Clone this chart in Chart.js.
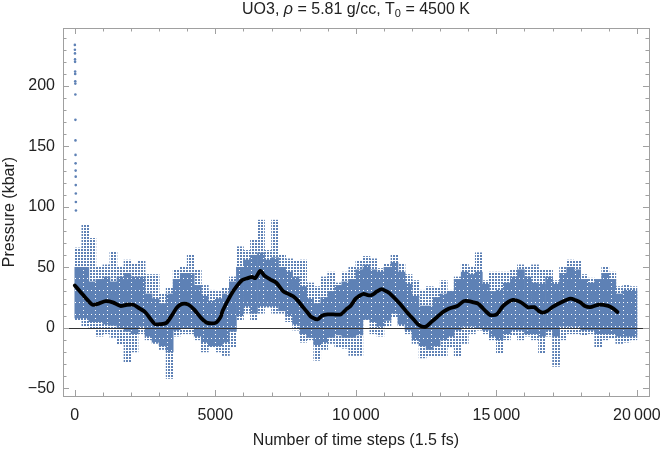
<!DOCTYPE html>
<html>
<head>
<meta charset="utf-8">
<script src="https://cdn.jsdelivr.net/npm/chart.js@4.4.1/dist/chart.umd.min.js"></script>
<style>
  html, body { margin: 0; padding: 0; background: #fff; }
  #wrap { width: 671px; height: 452px; }
</style>
</head>
<body>
<div id="wrap"><canvas id="grafico"></canvas></div>
<script>
// blue cloud, read per 250-step bin (bin centres)
const binCenters = [
  125, 375, 625, 875, 1125, 1375, 1625, 1875, 2125, 2375,
  2625, 2875, 3125, 3375, 3625, 3875, 4125, 4375, 4625, 4875,
  5125, 5375, 5625, 5875, 6125, 6375, 6625, 6875, 7125, 7375,
  7625, 7875, 8125, 8375, 8625, 8875, 9125, 9375, 9625, 9875,
  10125, 10375, 10625, 10875, 11125, 11375, 11625, 11875, 12125, 12375,
  12625, 12875, 13125, 13375, 13625, 13875, 14125, 14375, 14625, 14875,
  15125, 15375, 15625, 15875, 16125, 16375, 16625, 16875, 17125, 17375,
  17625, 17875, 18125, 18375, 18625, 18875, 19125, 19375, 19625, 19875
];
// outermost points in each bin
const binHigh = [
  66, 85, 74, 50, 52, 63, 50, 56, 53, 55,
  44, 44, 28, 33, 48, 50, 60, 48, 35, 31,
  30, 33, 42, 67, 64, 73, 89, 64, 89, 60,
  57, 55, 56, 37, 34, 42, 46, 37, 46, 50,
  55, 59, 57, 49, 53, 60, 53, 44, 39, 31,
  34, 33, 39, 31, 42, 53, 50, 62, 39, 46,
  46, 46, 48, 52, 50, 52, 48, 48, 39, 50,
  56, 55, 44, 41, 39, 50, 46, 34, 35, 34
];
const binLow = [
  6, 1, 0, -7, -5, -8, -14, -29, -20, -5,
  -10, -13, -18, -42, -7, -5, -5, -10, -20, -16,
  -20, -23, -16, 6, 12, 6, 12, 17, 12, 12,
  5, -2, -12, -10, -27, -18, -13, -16, -17, -23,
  -23, 6, -5, -7, 1, 9, 1, -5, -13, -25,
  -24, -24, -24, -16, -24, -13, -5, -2, -5, -10,
  -21, -10, -6, -10, -7, -10, -21, -7, -32, -10,
  -5, -5, -6, -5, -16, -10, -9, -13, -12, -10
];
// where the points are dense
const coreHigh = [
  50, 50, 38, 40, 42, 38, 42, 45, 42, 42,
  28, 24, 20, 28, 40, 45, 45, 35, 26, 22,
  24, 28, 38, 50, 56, 60, 62, 56, 58, 50,
  46, 42, 34, 24, 20, 25, 30, 35, 38, 40,
  48, 52, 48, 46, 50, 54, 46, 36, 26, 18,
  18, 25, 28, 30, 40, 46, 44, 46, 36, 30,
  31, 37, 42, 48, 42, 37, 36, 42, 36, 45,
  50, 48, 40, 37, 40, 45, 40, 28, 31, 31
];
const coreLow = [
  8, 8, 5, 5, 3, 2, 0, -3, -5, 1,
  -7, -12, -15, -20, -2, 0, 0, -7, -12, -15,
  -15, -12, -3, 10, 18, 12, 18, 18, 18, 14,
  10, 3, -5, -8, -14, -12, -8, -6, -8, -8,
  -6, 7, 5, 1, 6, 12, 3, -2, -10, -15,
  -18, -15, -10, -7, -2, 1, 1, 0, -2, -7,
  -10, -5, -2, -2, -5, -5, -7, -2, -7, 1,
  1, 1, -2, -2, -5, -5, -5, -7, -7, -7
];

// the first few steps shoot up
const spikeSteps = [2, 4, 6, 8, 10, 12, 14, 16, 18, 20, 22, 24, 26, 28, 30, 32, 34, 36, 38, 40];
const spikeValues = [234, 230, 227, 222, 220, 212, 210, 204, 202, 193, 172, 155, 143, 136, 130, 125, 118, 111, 104, 97];

// black running mean
const meanSteps = [
  0, 150, 300, 450, 630, 850, 1100, 1350, 1620, 1850,
  2090, 2300, 2500, 2700, 2850, 3050, 3260, 3450, 3610, 3750,
  3900, 4050, 4250, 4500, 4720, 5010, 5190, 5260, 5550, 5750,
  5960, 6150, 6310, 6420, 6600, 6750, 6950, 7180, 7420, 7600,
  7770, 7950, 8120, 8300, 8410, 8640, 8800, 9000, 9200, 9460,
  9650, 9810, 9990, 10100, 10280, 10420, 10570, 10750, 10920, 11100,
  11270, 11560, 11850, 12050, 12200, 12350, 12500, 12700, 12900, 13100,
  13320, 13610, 13840, 14000, 14190, 14350, 14480, 14650, 14780, 15010,
  15240, 15590, 15880, 16120, 16350, 16500, 16640, 16820, 16990, 17350,
  17640, 17800, 17990, 18150, 18340, 18630, 18980, 19150, 19310
];
const meanValues = [
  35, 31, 27, 23, 19, 20, 22, 21, 18, 19,
  19, 16, 13, 7, 3, 3, 4, 10, 16, 19,
  20, 19, 15, 8, 4, 4, 9, 14, 27, 34,
  39.5, 41, 42, 41, 47, 43, 40, 37, 30, 28,
  26, 22, 17, 12, 9, 7, 10, 11, 11, 11,
  15, 18, 24, 26, 28, 27, 27, 30, 32, 30,
  27, 20, 12, 7, 3, 1, 1, 5, 9, 13,
  16, 18, 22, 22, 21, 20, 17, 13, 10.5, 11,
  18, 23, 21, 17, 17, 14, 12.5, 14, 17, 21.5,
  24, 23, 21, 18, 17, 19, 18, 16, 13
];

const xTicks = [0, 5000, 10000, 15000, 20000];
const yTicks = [-50, 0, 50, 100, 150, 200];

const blue = "rgb(94,129,181)";
const fonte = "'Liberation Sans', Arial, sans-serif";

function agrupar(v) {
  const s = String(Math.abs(v));
  const txt = s.length > 4 ? s.slice(0, s.length - 3) + "\u2009" + s.slice(-3) : s;
  return v < 0 ? "\u2212" + txt : txt;
}

// small tiled dots so the bands look like a point cloud
function pontilhado(w, h, rects) {
  const cv = document.createElement("canvas");
  cv.width = w;
  cv.height = h;
  const g = cv.getContext("2d");
  g.fillStyle = blue;
  rects.forEach(r => g.fillRect(r[0], r[1], r[2], r[3]));
  return g.createPattern(cv, "repeat");
}

// frame with inward ticks on all four sides, like Mathematica
const moldura = {
  id: "moldura",
  afterDraw(chart) {
    const c = chart.ctx;
    const a = chart.chartArea;
    const sx = chart.scales.x, sy = chart.scales.y;
    c.save();
    c.strokeStyle = "#a0a0a0";
    c.lineWidth = 1;
    c.beginPath();
    for (let v = 0; v <= 20000; v += 1000) {
      const px = Math.round(sx.getPixelForValue(v)) + 0.5;
      const len = v % 5000 === 0 ? 6 : 3.5;
      c.moveTo(px, a.bottom); c.lineTo(px, a.bottom - len);
      c.moveTo(px, a.top); c.lineTo(px, a.top + len);
    }
    for (let v = -50; v <= 240; v += 10) {
      const py = Math.round(sy.getPixelForValue(v)) + 0.5;
      const len = v % 50 === 0 ? 6 : 3.5;
      c.moveTo(a.left, py); c.lineTo(a.left + len, py);
      c.moveTo(a.right, py); c.lineTo(a.right - len, py);
    }
    c.stroke();
    c.strokeRect(Math.round(a.left) + 0.5, Math.round(a.top) + 0.5,
      Math.round(a.right - a.left), Math.round(a.bottom - a.top));

    // title with italic rho and subscript zero
    const partes = [
      { t: "UO3, ", f: "16px " + fonte, dy: 0 },
      { t: "\u03c1", f: "italic 16px " + fonte, dy: 0 },
      { t: " = 5.81 g/cc, T", f: "16px " + fonte, dy: 0 },
      { t: "0", f: "11px " + fonte, dy: 3 },
      { t: " = 4500 K", f: "16px " + fonte, dy: 0 }
    ];
    let total = 0;
    for (const p of partes) { c.font = p.f; p.w = c.measureText(p.t).width; total += p.w; }
    let x = (a.left + a.right) / 2 - total / 2;
    c.fillStyle = "#222";
    c.textBaseline = "alphabetic";
    c.textAlign = "left";
    for (const p of partes) {
      c.font = p.f;
      c.fillText(p.t, x, 14 + p.dy);
      x += p.w;
    }
    c.restore();
  },
  beforeDatasetDraw(chart, args) {
    // horizontal axis at zero, under the black mean line
    if (args.index !== 0) return;
    const c = chart.ctx;
    const a = chart.chartArea;
    const py = Math.round(chart.scales.y.getPixelForValue(0)) + 0.5;
    c.save();
    c.strokeStyle = "#333";
    c.lineWidth = 1;
    c.beginPath();
    c.moveTo(a.left, py);
    c.lineTo(a.right, py);
    c.stroke();
    c.restore();
  }
};

function criarGrafico() {
  const ctx = document.getElementById("grafico");

  const externo = binCenters.map((x, i) => ({ x: x, y: [binLow[i], binHigh[i]] }));
  const nucleo = binCenters.map((x, i) => ({ x: x, y: [coreLow[i], coreHigh[i]] }));
  const pico = spikeSteps.map((x, i) => ({ x: x, y: spikeValues[i] }));
  const media = meanSteps.map((x, i) => ({ x: x, y: meanValues[i] }));

  const ralo = pontilhado(3, 3, [[0, 0, 2, 2]]);
  const denso = pontilhado(4, 4, [[0, 0, 4, 2], [0, 2, 3, 1], [0, 3, 4, 1]]);

  new Chart(ctx, {
    type: "bar",
    data: {
      datasets: [
        {
          type: "line",
          label: "media",
          data: media,
          borderColor: "#000",
          borderWidth: 3.8,
          pointRadius: 0,
          tension: 0.25,
          borderCapStyle: "round",
          borderJoinStyle: "round",
          order: 0
        },
        {
          type: "scatter",
          label: "pico",
          data: pico,
          backgroundColor: blue,
          borderWidth: 0,
          pointRadius: 1.3,
          order: 1
        },
        {
          type: "bar",
          label: "nucleo",
          data: nucleo,
          backgroundColor: denso,
          borderWidth: 0,
          barPercentage: 1,
          categoryPercentage: 1,
          grouped: false,
          order: 2
        },
        {
          type: "bar",
          label: "externo",
          data: externo,
          backgroundColor: ralo,
          borderWidth: 0,
          barPercentage: 1,
          categoryPercentage: 1,
          grouped: false,
          order: 3
        }
      ]
    },
    options: {
      responsive: true,
      maintainAspectRatio: false,
      animation: false,
      layout: { padding: { left: 0, right: 13, top: 28, bottom: 0 } },
      plugins: {
        legend: { display: false },
        tooltip: { enabled: false },
        title: { display: false }
      },
      scales: {
        x: {
          type: "linear",
          min: -420,
          max: 20430,
          offset: false,
          grid: { display: false, drawTicks: false },
          border: { display: false },
          afterBuildTicks(s) { s.ticks = xTicks.map(v => ({ value: v })); },
          afterFit(s) { s.height = 56; },
          ticks: {
            color: "#222",
            padding: 10,
            maxRotation: 0,
            autoSkip: false,
            font: { family: fonte, size: 16 },
            callback: v => agrupar(v)
          },
          title: {
            display: true,
            text: "Number of time steps (1.5 fs)",
            color: "#222",
            font: { family: fonte, size: 16 },
            padding: { top: 0, bottom: 2 }
          }
        },
        y: {
          min: -56.5,
          max: 248,
          grid: { display: false, drawTicks: false },
          border: { display: false },
          afterBuildTicks(s) { s.ticks = yTicks.map(v => ({ value: v })); },
          afterFit(s) { s.width = 63; },
          ticks: {
            color: "#222",
            padding: 8,
            autoSkip: false,
            font: { family: fonte, size: 16 },
            callback: v => agrupar(v)
          },
          title: {
            display: true,
            text: "Pressure (kbar)",
            color: "#222",
            font: { family: fonte, size: 16 },
            padding: { top: 0, bottom: 0 }
          }
        }
      }
    },
    plugins: [moldura]
  });
}

criarGrafico();
</script>
</body>
</html>
